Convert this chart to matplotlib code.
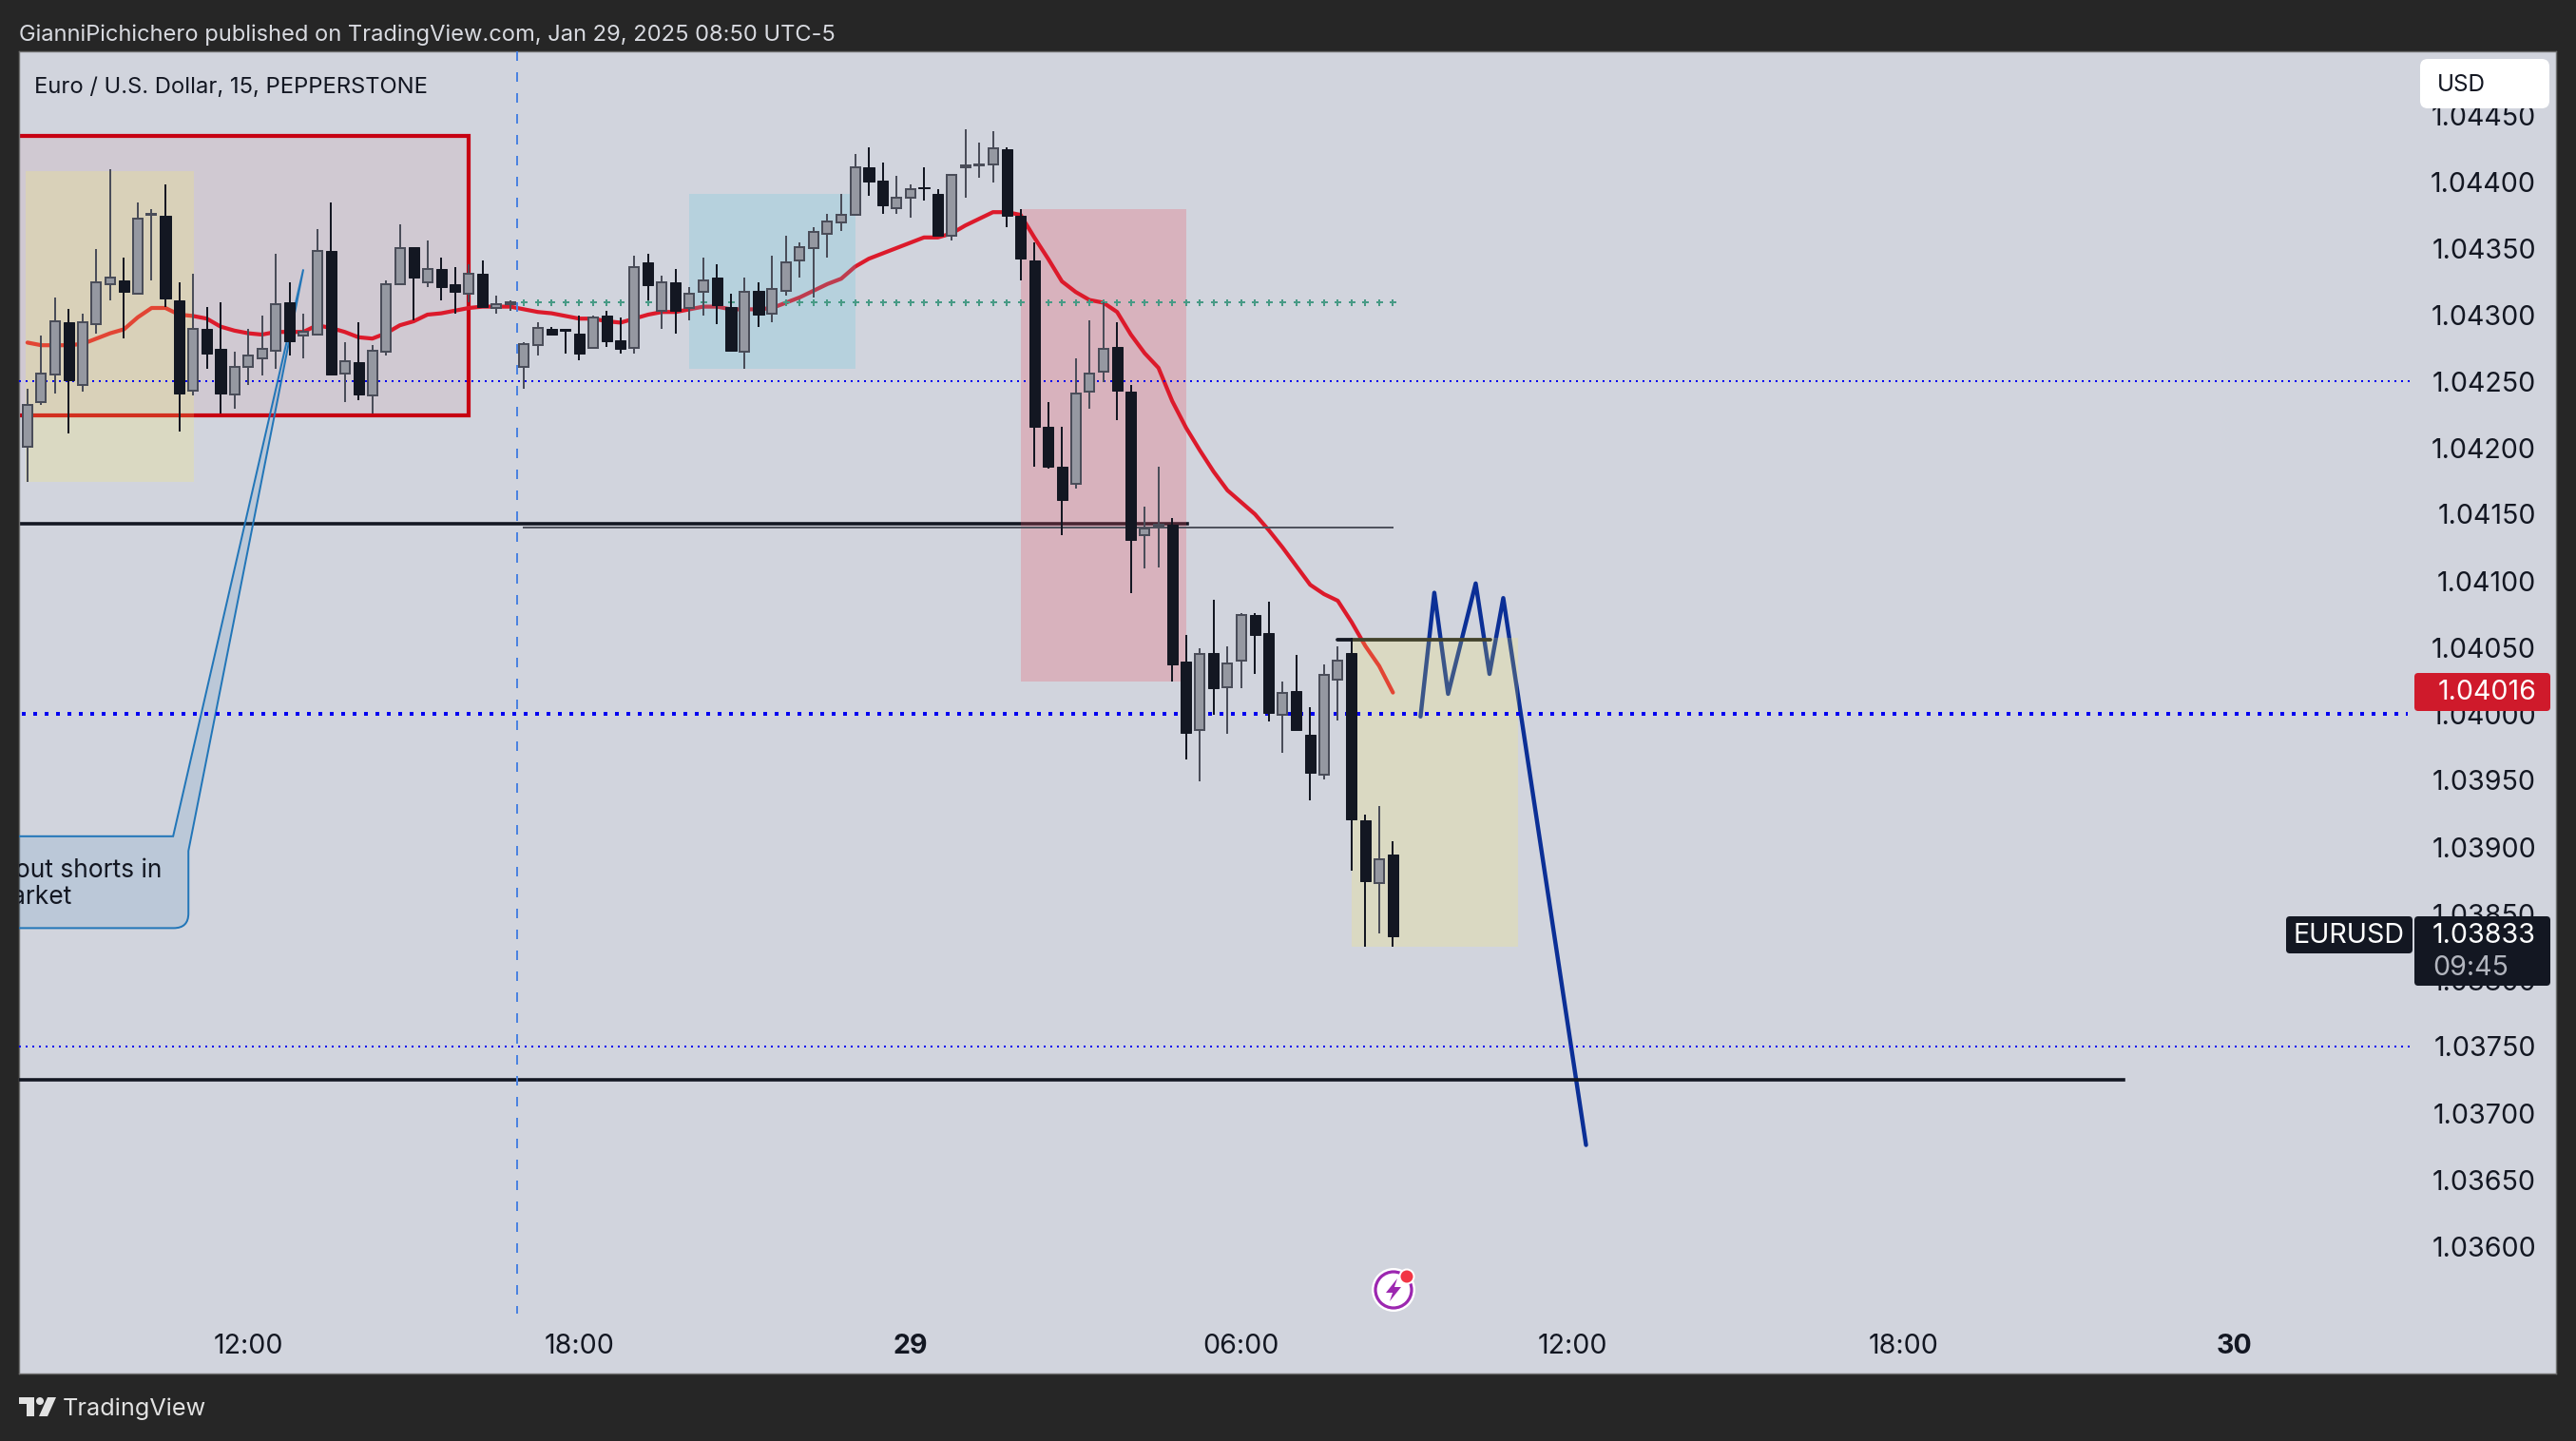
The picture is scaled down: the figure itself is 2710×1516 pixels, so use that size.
import numpy as np
import matplotlib
matplotlib.use("Agg")
import matplotlib.pyplot as plt
from matplotlib.patches import Rectangle, FancyBboxPatch, PathPatch, Circle, Polygon
from matplotlib.path import Path

plt.rcParams['font.family'] = ['Inter', 'DejaVu Sans']

# ---------- data ----------
opens = [1.04201,1.04234,1.04255,1.04294,1.04247,1.04293,1.04323,1.04326,1.04316,1.04375,
1.04374,1.04311,1.04243,1.04289,1.04274,1.04240,1.04261,1.04267,1.04273,1.04309,
1.04284,1.04285,1.04348,1.04256,1.04264,1.04239,1.04272,1.04323,1.04351,1.04324,
1.04334,1.04323,1.04316,1.04331,1.04305,1.04308,1.04261,1.04277,1.04289,1.04289,
1.04286,1.04275,1.04299,1.04281,1.04275,1.04339,1.04303,1.04324,1.04305,1.04317,
1.04328,1.04306,1.04272,1.04318,1.04301,1.04318,1.04341,1.04350,1.04361,1.04369,
1.04375,1.04411,1.04401,1.04380,1.04388,1.04396,1.04391,1.04359,1.04411,1.04412,
1.04413,1.04424,1.04374,1.04341,1.04216,1.04186,1.04173,1.04242,1.04257,1.04276,
1.04242,1.04134,1.04141,1.04142,1.04039,1.03988,1.04046,1.04020,1.04040,1.04074,
1.04061,1.03999,1.04017,1.03984,1.03954,1.04026,1.04046,1.03920,1.03873,1.03894]
closes = [1.04232,1.04256,1.04295,1.04251,1.04294,1.04324,1.04328,1.04317,1.04372,1.04376,
1.04312,1.04241,1.04289,1.04271,1.04241,1.04261,1.04269,1.04274,1.04308,1.04280,
1.04287,1.04348,1.04255,1.04265,1.04240,1.04273,1.04323,1.04350,1.04328,1.04334,
1.04321,1.04317,1.04331,1.04306,1.04308,1.04309,1.04278,1.04290,1.04285,1.04288,
1.04271,1.04298,1.04280,1.04274,1.04336,1.04322,1.04324,1.04303,1.04316,1.04326,
1.04307,1.04273,1.04317,1.04300,1.04319,1.04339,1.04351,1.04362,1.04370,1.04375,
1.04411,1.04400,1.04382,1.04388,1.04394,1.04395,1.04359,1.04405,1.04412,1.04413,
1.04425,1.04374,1.04342,1.04216,1.04186,1.04161,1.04241,1.04256,1.04274,1.04243,
1.04131,1.04139,1.04142,1.04037,1.03986,1.04045,1.04019,1.04038,1.04074,1.04059,
1.04001,1.04016,1.03988,1.03956,1.04029,1.04040,1.03921,1.03874,1.03891,1.03833]
highs = [1.04244,1.04284,1.04313,1.04304,1.04301,1.04349,1.04409,1.04343,1.04384,1.04379,
1.04398,1.04324,1.04331,1.04306,1.04309,1.04272,1.04289,1.04299,1.04346,1.04324,
1.04301,1.04364,1.04384,1.04279,1.04294,1.04277,1.04326,1.04368,1.04351,1.04356,
1.04343,1.04336,1.04338,1.04341,1.04314,1.04311,1.04279,1.04294,1.04291,1.04289,
1.04299,1.04299,1.04303,1.04298,1.04344,1.04346,1.04329,1.04334,1.04321,1.04343,
1.04338,1.04316,1.04328,1.04324,1.04344,1.04359,1.04354,1.04366,1.04376,1.04391,
1.04421,1.04426,1.04414,1.04404,1.04398,1.04411,1.04394,1.04406,1.04439,1.04429,
1.04438,1.04426,1.04379,1.04354,1.04234,1.04216,1.04267,1.04296,1.04309,1.04294,
1.04247,1.04156,1.04186,1.04147,1.04059,1.04049,1.04086,1.04051,1.04076,1.04076,
1.04084,1.04024,1.04044,1.04005,1.04037,1.04051,1.04057,1.03924,1.03931,1.03904]
lows = [1.04174,1.04232,1.04241,1.04211,1.04242,1.04286,1.04311,1.04282,1.04316,1.04326,
1.04306,1.04212,1.04239,1.04259,1.04226,1.04229,1.04247,1.04254,1.04259,1.04269,
1.04267,1.04285,1.04254,1.04234,1.04236,1.04226,1.04269,1.04323,1.04296,1.04321,
1.04311,1.04301,1.04309,1.04305,1.04301,1.04303,1.04244,1.04269,1.04284,1.04271,
1.04266,1.04274,1.04276,1.04271,1.04271,1.04311,1.04289,1.04286,1.04296,1.04299,
1.04293,1.04273,1.04259,1.04291,1.04294,1.04314,1.04328,1.04313,1.04343,1.04363,
1.04374,1.04389,1.04376,1.04376,1.04373,1.04386,1.04359,1.04356,1.04388,1.04403,
1.04399,1.04366,1.04326,1.04186,1.04184,1.04134,1.04169,1.04229,1.04249,1.04221,
1.04091,1.04109,1.04110,1.04024,1.03966,1.03949,1.03999,1.03985,1.04019,1.04030,
1.03994,1.03971,1.03988,1.03935,1.03951,1.03995,1.03882,1.03825,1.03835,1.03825]
ema = [1.04279,1.04277,1.04277,1.04277,1.04278,1.04282,1.04286,1.04289,1.04298,1.04305,
1.04305,1.04300,1.04299,1.04297,1.04291,1.04288,1.04286,1.04285,1.04287,1.04287,
1.04287,1.04292,1.04290,1.04287,1.04283,1.04282,1.04286,1.04292,1.04295,1.04300,
1.04301,1.04303,1.04305,1.04306,1.04306,1.04306,1.04304,1.04302,1.04301,1.04299,
1.04297,1.04297,1.04295,1.04294,1.04297,1.04300,1.04302,1.04302,1.04304,1.04306,
1.04306,1.04304,1.04304,1.04304,1.04305,1.04309,1.04313,1.04318,1.04323,1.04327,
1.04336,1.04342,1.04346,1.04350,1.04354,1.04358,1.04358,1.04361,1.04367,1.04372,
1.04377,1.04377,1.04375,1.04358,1.04342,1.04325,1.04317,1.04311,1.04309,1.04302,
1.04285,1.04271,1.04260,1.04235,1.04215,1.04198,1.04182,1.04168,1.04159,1.04150,
1.04138,1.04125,1.04111,1.04097,1.04090,1.04085,1.04069,1.04051,1.04036,1.04016]

zigzag_bars = [101, 102, 103, 105, 106, 107, 113]
zigzag_prices = [1.03998, 1.04091, 1.04015, 1.04098, 1.04030, 1.04087, 1.03676]

price_ticks = [1.03600,1.03650,1.03700,1.03750,1.03800,1.03850,1.03900,1.03950,1.04000,
               1.04050,1.04100,1.04150,1.04200,1.04250,1.04300,1.04350,1.04400,1.04450]
time_ticks = [16, 40, 64, 88, 112, 136, 160]
time_labels = ['12:00', '18:00', '29', '06:00', '12:00', '18:00', '30']

# ---------- figure ----------
W, H = 2710, 1516
PX = 0.72
BG = '#262626'
CHART = '#D1D4DD'
INK = '#131722'
TICK_FS = 20.6
fig = plt.figure(figsize=(W/100, H/100), dpi=100, facecolor=BG)
L_, R_, T_, B_ = 20, 2689, 54, 1445
ax = fig.add_axes([L_/W, (H-B_)/H, (R_-L_)/W, (B_-T_)/H], facecolor=CHART)
ax.set_xlim((L_-28.9)/14.51, (R_-28.9)/14.51)
ax.set_ylim(1.04+(751-B_)/140000, 1.04+(751-T_)/140000)

# axis
ax.set_yticks(price_ticks, [f'{p:.5f}' for p in price_ticks])
ax.yaxis.tick_right()
ax.tick_params(axis='y', length=0, pad=-21*PX, labelsize=TICK_FS, labelcolor=INK)
for t in ax.get_yticklabels():
    t.set_ha('right')
ax.set_xticks(time_ticks, time_labels)
ax.tick_params(axis='x', length=0, pad=-28*PX, labelsize=TICK_FS, labelcolor=INK)
for t in ax.get_xticklabels():
    t.set_va('center')
    if t.get_text() in ('29', '30'):
        t.set_fontweight('bold')
for s in ax.spines.values():
    s.set_color('#6f6f6f')
    s.set_linewidth(1.0)

# drawings under everything
ax.add_patch(Rectangle((-5, 1.04224), 37, 1.04434-1.04224, fc=(0.80, 0.0, 0.06, 0.05),
                       ec='#C70012', lw=4.2*PX, zorder=1.5))
ax.plot([-5, 84.1], [1.04143, 1.04143], color=INK, lw=3.6*PX, zorder=1.6)
ax.add_patch(Rectangle((72, 1.04024), 12.05, 1.04379-1.04024, fc=(0.93, 0.31, 0.38, 0.25), lw=0, zorder=2))
ax.plot(np.arange(len(ema)), ema, color='#DC1A2B', lw=4.2*PX, zorder=2.2,
        solid_joinstyle='round', solid_capstyle='round')
ax.plot(zigzag_bars, zigzag_prices, color='#0B2F96', lw=4.4*PX, zorder=2.4,
        solid_joinstyle='round', solid_capstyle='round')
ax.plot([95, 106.1], [1.04056, 1.04056], color=INK, lw=3.8*PX, zorder=2.4, solid_capstyle='round')

# translucent boxes
ax.add_patch(Rectangle((-0.1, 1.04174), 12.17, 1.04408-1.04174, fc=(1.0, 0.95, 0.35, 0.2), lw=0, zorder=3))
ax.add_patch(Rectangle((48, 1.04259), 12.05, 1.04391-1.04259, fc=(0.29, 0.79, 0.88, 0.2), lw=0, zorder=3))
ax.add_patch(Rectangle((96, 1.03825), 12.05, 1.04057-1.03825, fc=(1.0, 0.95, 0.35, 0.2), lw=0, zorder=3))

# callout
verts = [(-5, 1.03908), (10.56, 1.03908), (20, 1.04334), (11.67, 1.03897), (11.67, 1.03850),
         (11.67, 1.03839), (10.6, 1.03839), (-5, 1.03839), (-5, 1.03908)]
codes = [Path.MOVETO, Path.LINETO, Path.LINETO, Path.LINETO, Path.LINETO,
         Path.CURVE3, Path.CURVE3, Path.LINETO, Path.CLOSEPOLY]
ax.add_patch(PathPatch(Path(verts, codes), fc=(0.13, 0.46, 0.72, 0.12), ec='#2276B8',
                       lw=2*PX, zorder=3.4))
ax.text(9.72, 1.03877, 'about shorts in', ha='right', va='baseline', fontsize=19, color=INK,
        clip_on=True, zorder=3.45)
ax.text(3.18, 1.03857, 'market', ha='right', va='baseline', fontsize=19, color=INK,
        clip_on=True, zorder=3.45)

# horizontal levels
ax.plot([-5, 173], [1.04250, 1.04250], color='#0000EE', lw=2*PX, ls=(0, (1, 2.5)), zorder=3.5)
ax.plot([-5, 172.6], [1.04000, 1.04000], color='#0000F0', lw=4*PX, ls=(0, (1, 2)), zorder=3.5)
ax.plot([-5, 173], [1.03750, 1.03750], color='#0000EE', lw=2*PX, ls=(0, (1, 2.5)), zorder=3.5)
ax.plot([-5, 152], [1.03725, 1.03725], color=INK, lw=3.6*PX, zorder=3.5)
ax.plot([36, 99], [1.04140, 1.04140], color='#50535E', lw=2*PX, zorder=3.5)
ax.plot([35.5, 35.5], [1.044979, 1.03549], color='#4A82E0', lw=2*PX, ls=(0, (5, 6)), zorder=3.5)
plus_bars = np.arange(36, 100)
ax.plot(plus_bars, [1.04309]*len(plus_bars), ls='none', marker='+', ms=7*PX, mew=2*PX,
        color='#479A85', zorder=3.5)

# candles
idx = np.arange(len(opens))
o, c, h, l = map(np.array, (opens, closes, highs, lows))
up = c >= o
BAR = 14.51
ax.vlines(idx[up], l[up], h[up], color='#4A4D59', lw=2*PX, zorder=4)
ax.vlines(idx[~up], l[~up], h[~up], color=INK, lw=2*PX, zorder=4)
ax.bar(idx[up], (c-o)[up], bottom=o[up], width=10/BAR, color='#9598A1', edgecolor='#4A4D59',
       linewidth=2*PX, zorder=4.1)
ax.bar(idx[~up], (c-o)[~up], bottom=o[~up], width=11.2/BAR, color=INK, edgecolor=INK,
       linewidth=1*PX, zorder=4.1)

# ---------- overlay chrome ----------
ov = fig.add_axes([0, 0, 1, 1], facecolor='none', zorder=10)
ov.set_xlim(0, W); ov.set_ylim(H, 0); ov.axis('off')

def badge(x0, y0, x1, y1, color, r=4):
    ov.add_patch(FancyBboxPatch((x0+r, y0+r), x1-x0-2*r, y1-y0-2*r,
                                boxstyle=f'round,pad={r},rounding_size={r}',
                                fc=color, ec='none'))

ov.text(20, 37, 'GianniPichichero published on TradingView.com, Jan 29, 2025 08:50 UTC-5',
        color='#D8DAE0', fontsize=17.05, va='center', ha='left')
ov.text(36, 92, 'Euro / U.S. Dollar, 15, PEPPERSTONE', color=INK, fontsize=17.1, va='center', ha='left')

badge(2546, 62, 2682, 114, '#FFFFFF', 8)
ov.text(2564, 90, 'USD', color=INK, fontsize=17.5, va='center', ha='left')

badge(2540, 708, 2683, 748, '#CF1A2B')
ov.text(2668, 729, '1.04016', color='white', fontsize=TICK_FS, va='center', ha='right')

badge(2540, 964, 2683, 1037, INK)
ov.text(2668, 985, '1.03833', color='white', fontsize=TICK_FS, va='center', ha='right')
ov.text(2559, 1018, '09:45', color='#B2B5BE', fontsize=TICK_FS, va='center', ha='left')
badge(2405, 964, 2538, 1003, INK)
ov.text(2471, 985, 'EURUSD', color='white', fontsize=TICK_FS, va='center', ha='center')

# TradingView logo and name
LOGO = '#E2E2E2'
ov.add_patch(Polygon([(20, 1470), (36, 1470), (36, 1490), (28, 1490), (28, 1477), (20, 1477)], fc=LOGO, ec='none'))
ov.add_patch(Circle((42, 1474), 4, fc=LOGO, ec='none'))
ov.add_patch(Polygon([(50, 1470), (59, 1470), (50, 1490), (41, 1490)], fc=LOGO, ec='none'))
ov.text(66, 1482, 'TradingView', color=LOGO, fontsize=18.2, va='center', ha='left')

# lightning icon
ov.add_patch(Circle((1466, 1357), 23, fc='white', ec='none'))
ov.add_patch(Circle((1466, 1357), 19, fc='white', ec='#9C27B0', lw=3.2*PX))
ov.add_patch(Polygon([(1470, 1345), (1458, 1360), (1465, 1360), (1462, 1369), (1474, 1354), (1467, 1354)],
                     fc='#9C27B0', ec='none'))
ov.add_patch(Circle((1480, 1343), 7.5, fc='#F23645', ec='white', lw=2*PX))

fig.savefig('out.png', dpi=100, facecolor=BG)
